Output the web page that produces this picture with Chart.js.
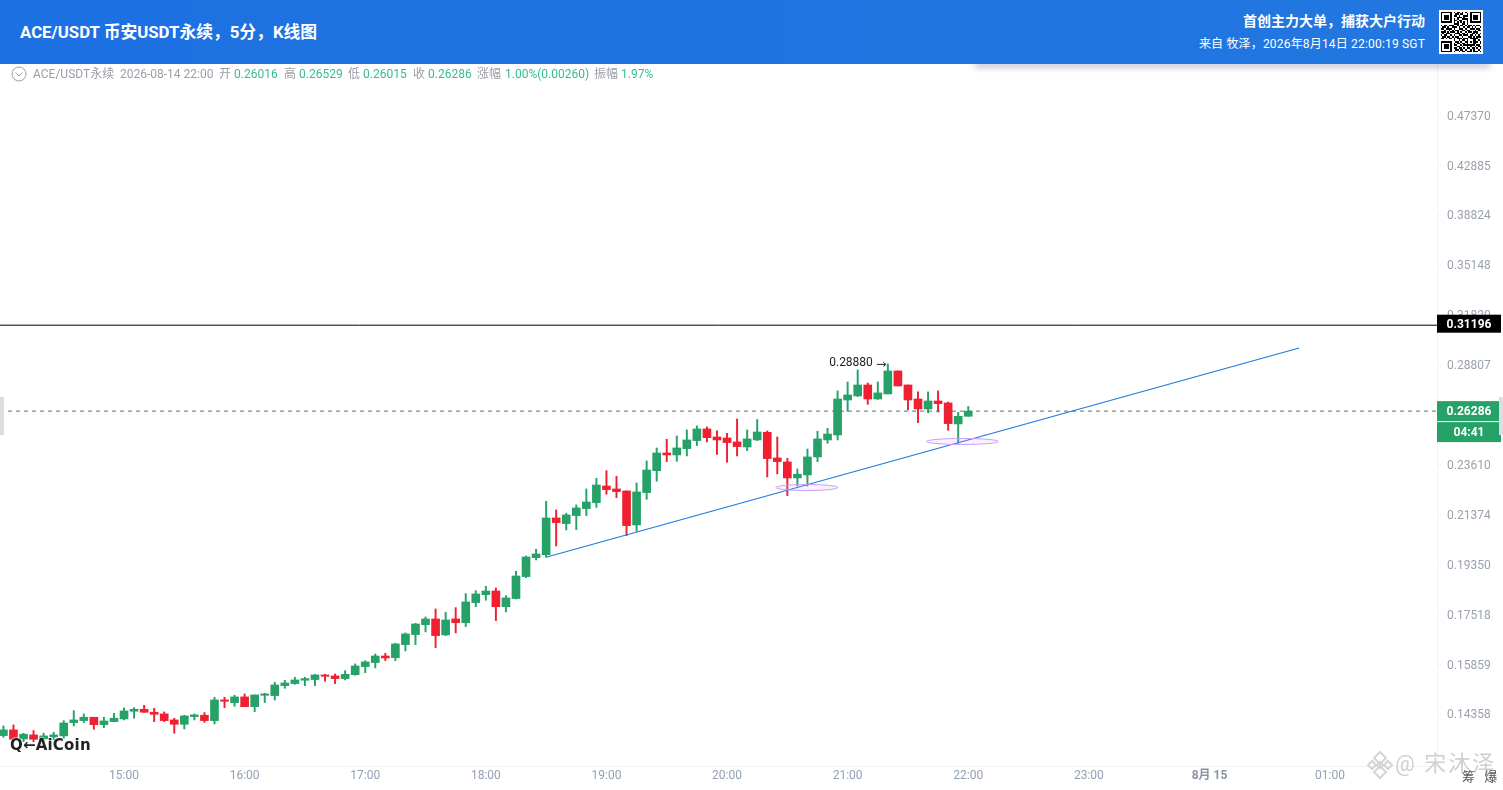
<!DOCTYPE html>
<html lang="zh">
<head>
<meta charset="utf-8">
<title>ACE/USDT</title>
<script src="https://cdn.jsdelivr.net/npm/chart.js@4/dist/chart.umd.min.js"></script>
<style>
html,body{margin:0;padding:0;background:#fff;width:1503px;height:790px;overflow:hidden;font-family:Roboto,"Noto Sans CJK SC",sans-serif;}
#chart{position:absolute;left:0;top:0;width:1503px;height:790px;}
#head{position:absolute;left:0;top:0;width:1503px;height:64px;background:linear-gradient(90deg,#1d70e2,#2277e0);color:#fff;z-index:3;}
#shadow{position:absolute;left:975px;top:60px;width:515px;height:4px;box-shadow:0 3px 6px rgba(20,30,70,.35);z-index:2;}
.abs{position:absolute;white-space:nowrap;}
#title{left:20px;top:21px;font-size:16.8px;font-weight:700;line-height:22px;}
#slogan{right:78px;top:12px;font-size:14px;font-weight:700;line-height:18px;}
#from{right:78px;top:35px;font-size:12px;line-height:18px;letter-spacing:.18px;}
#qr{position:absolute;left:1439px;top:10px;width:44px;height:44px;background:#fff;}
.info{position:absolute;top:67px;font-size:12px;line-height:15px;color:#9a9ea8;white-space:nowrap;z-index:2;}
.info.g{color:#36bd8c;}
#logo{position:absolute;left:10px;top:736px;font:700 15px "DejaVu Sans",sans-serif;color:#222;letter-spacing:.2px;text-shadow:0 0 2px #fff,0 0 2px #fff;z-index:2;}
#mark{position:absolute;left:1395px;top:749px;font-size:22px;line-height:30px;color:#d0d0d0;letter-spacing:2px;white-space:nowrap;z-index:2;}
#sub{position:absolute;left:1462px;top:769px;font-size:13px;line-height:16px;color:#555;word-spacing:6px;white-space:nowrap;z-index:2;}
.grip{position:absolute;top:397px;width:4px;height:38px;background:#dcdde0;z-index:2;}
</style>
</head>
<body>
<canvas id="chart" width="1503" height="790"></canvas>
<div id="shadow"></div>
<div id="head">
  <div id="title" class="abs">ACE/USDT 币安USDT永续，5分，K线图</div>
  <div id="slogan" class="abs">首创主力大单，捕获大户行动</div>
  <div id="from" class="abs">来自 牧泽，2026年8月14日 22:00:19 SGT</div>
  <svg id="qr" viewBox="-1 -1 27 27" shape-rendering="crispEdges"></svg>
</div>
<svg style="position:absolute;left:11px;top:66px;z-index:2" width="16" height="16" viewBox="0 0 16 16"><circle cx="8" cy="8" r="7" fill="none" stroke="#9a9ea8"/><path d="M4.5 6.5 8 10l3.5-3.5" fill="none" stroke="#9a9ea8"/></svg>
<span class="info" style="left:33px">ACE/USDT永续</span>
<span class="info" style="left:120px">2026-08-14 22:00</span>
<span class="info" style="left:219px">开</span><span class="info g" style="left:234px">0.26016</span>
<span class="info" style="left:284px">高</span><span class="info g" style="left:299px">0.26529</span>
<span class="info" style="left:348px">低</span><span class="info g" style="left:363px">0.26015</span>
<span class="info" style="left:413px">收</span><span class="info g" style="left:428px">0.26286</span>
<span class="info" style="left:477px">涨幅</span><span class="info g" style="left:505px">1.00%(0.00260)</span>
<span class="info" style="left:594px">振幅</span><span class="info g" style="left:621px">1.97%</span>
<div id="logo">Q←AiCoin</div>
<svg style="position:absolute;left:1365px;top:750px;z-index:2" width="30" height="30" viewBox="0 0 30 30"><g fill="none" stroke="#d4d4d4" stroke-width="2"><path d="M15 2 21 8 15 14 9 8Z"/><path d="M15 16 21 22 15 28 9 22Z"/><path d="M7 11 11 15 7 19 3 15Z"/><path d="M23 11 27 15 23 19 19 15Z"/><path d="M15 12 18 15 15 18 12 15Z"/></g></svg>
<div id="mark">@ 宋沐泽</div>
<div id="sub">筹 爆</div>
<div class="grip" style="left:0"></div>
<div class="grip" style="left:1499px"></div>
<script>
const opens = [.13767,.13924,.13675,.13785,.13675,.13730,.13758,.14127,.14184,.14279,
.14071,.14156,.14232,.14451,.14508,.14422,.14375,.14203,.14080,.14298,
.14336,.14184,.14781,.14702,.14870,.14584,.14919,.14909,.15209,.15270,
.15372,.15393,.15535,.15505,.15423,.15545,.15796,.15923,.16134,.16080,
.16504,.16837,.17174,.17370,.16826,.17370,.17242,.17945,.18234,.18366,
.17801,.18090,.18900,.19628,.19745,.21244,.21006,.21344,.21644,.21903,
.22642,.22508,.22419,.20950,.22345,.23344,.24181,.24086,.24393,.24785,
.25369,.24965,.24916,.24720,.24473,.24818,.25198,.23943,.23753,.23007,
.23146,.23991,.24818,.25065,.26875,.27093,.27692,.26929,.27202,.28477,
.27692,.26929,.26401,.26822,.26717,.25623,.26016];
const highs = [.14034,.14062,.13831,.13905,.13831,.13859,.14184,.14470,.14375,.14279,
.14279,.14394,.14546,.14555,.14623,.14536,.14432,.14251,.14336,.14375,
.14413,.14860,.14860,.14919,.14959,.14929,.14978,.15311,.15372,.15464,
.15464,.15555,.15555,.15566,.15670,.15881,.15986,.16199,.16221,.16548,
.16893,.17219,.17440,.17720,.17603,.17766,.18270,.18378,.18539,.18477,
.18198,.19101,.19694,.19959,.21962,.21587,.21444,.21802,.22508,.22993,
.23344,.23085,.22419,.22779,.23802,.24426,.24850,.25015,.25319,.25521,
.25470,.25268,.25150,.25876,.25317,.25843,.25266,.24966,.23928,.23422,
.24374,.25249,.25402,.27365,.27858,.28533,.27802,.27858,.28880,.28477,
.27692,.27311,.27311,.27365,.26770,.26224,.26529];
const lows = [.13721,.13602,.13602,.13602,.13602,.13647,.13693,.14034,.14127,.13942,
.13988,.14156,.14203,.14251,.14413,.14156,.14156,.13831,.13951,.14203,
.14137,.14090,.14555,.14594,.14584,.14441,.14702,.14781,.15128,.15250,
.15209,.15209,.15342,.15270,.15382,.15525,.15607,.15754,.15986,.15986,
.16297,.16504,.16927,.16406,.16803,.16893,.17107,.17801,.18030,.17312,
.17615,.18078,.18862,.19538,.19641,.20091,.20743,.20757,.21344,.21701,
.22271,.22124,.20508,.20687,.22050,.22855,.23770,.23786,.24039,.24540,
.24720,.24118,.23738,.24039,.24293,.24785,.23053,.23192,.22211,.22642,
.22642,.23769,.24654,.24818,.26277,.27057,.26646,.26911,.27202,.27638,
.26348,.25690,.26207,.26242,.25300,.24654,.26015];
const closes = [.13924,.13665,.13804,.13665,.13758,.13785,.14117,.14203,.14279,.14071,
.14175,.14251,.14460,.14508,.14422,.14365,.14184,.14080,.14317,.14346,
.14184,.14781,.14742,.14870,.14584,.14929,.14959,.15230,.15291,.15382,
.15423,.15535,.15494,.15423,.15555,.15817,.15944,.16134,.16070,.16526,
.16859,.17197,.17370,.16803,.17335,.17242,.17969,.18258,.18366,.17801,
.18114,.18924,.19654,.19773,.21244,.21047,.21373,.21673,.21932,.22687,
.22478,.22390,.20923,.22375,.23375,.24181,.24086,.24426,.24818,.25369,
.24932,.24818,.24687,.24491,.24868,.25215,.23912,.23769,.23007,.23176,
.23991,.24868,.25114,.26929,.27147,.27692,.26929,.27256,.28477,.27638,
.26875,.26401,.26822,.26682,.25640,.26016,.26286];
const candleStepMinutes = 5;
const xTickMinutes = [60,120,180,240,300,360,420,480,540,600,660];
const xTickLabels = ["15:00","16:00","17:00","18:00","19:00","20:00","21:00","22:00","23:00","8月 15","01:00"];
const boldTickMinute = 600;
const yTickValues = [.47370,.42885,.38824,.35148,.31820,.28807,.23610,.21374,.19350,.17518,.15859,.14358];
const trendMinutes = [270.4,644.6];
const trendPrices = [.19653,.29810];
const blackLevel = .31196;
const lastPrice = .26286;
const countdown = "04:41";
const highMarkIndex = 88;
const ellipseMinutes = [399.7,477.1];
const ellipsePrices = [.22573,.24742];
const GREEN = "#26a269", RED = "#f01f32";
const xMin = -1.7, xMax = 713.2;

const qrRows = ["1111111010110101001111111","1000001001101100101000001","1011101011010011101011101","1011101000111010001011101","1011101010100111101011101","1000001011011000101000001","1111111010101010101111111","0000000011100110100000000","1011011100101101011010110","0110100111010010110101001","1101111010011101001110110","0010010101100110110001011","1110101110101001011011100","0101110001110110100110101","1011001010011011101101010","0110110101100100011010111","1101011010111011101111100","0000000010010110100011010","1111111001101001101011101","1000001010110110100011001","1011101011001011111110110","1011101000110100101001011","1011101011011010110110101","1000001001101101001010010","1111111010010110111011101"];
let qrPath = "";
qrRows.forEach((r,y)=>{[...r].forEach((c,x)=>{if(c==="1")qrPath+=`M${x} ${y}h1v1h-1z`;});});
document.getElementById("qr").innerHTML = `<rect x="-1" y="-1" width="27" height="27" fill="#fff"/><path d="${qrPath}" fill="#000"/>`;

const minutesOf = i => i*candleStepMinutes;
const colorOf = opens.map((o,i)=>closes[i]>=o?GREEN:RED);

const overlay = {
  id:"overlay",
  afterDatasetsDraw(c){
    const {ctx,scales:{x,y},chartArea:a} = c;
    ctx.save();
    ellipseMinutes.forEach((m,i)=>{
      const cx=x.getPixelForValue(m), cy=y.getPixelForValue(ellipsePrices[i]);
      const rx = i===0?31:36;
      ctx.beginPath();ctx.ellipse(cx,cy,rx,3,0,0,Math.PI*2);
      ctx.fillStyle="rgba(200,160,250,.14)";ctx.fill();
      ctx.strokeStyle="#c9a0f5";ctx.lineWidth=1;ctx.stroke();
    });
    const hx=x.getPixelForValue(minutesOf(highMarkIndex)), hy=y.getPixelForValue(highs[highMarkIndex]);
    ctx.fillStyle="#222";ctx.font="12px Roboto,sans-serif";ctx.textAlign="right";ctx.textBaseline="middle";
    ctx.fillText(highs[highMarkIndex].toFixed(5),hx-15,hy-0.5);
    ctx.strokeStyle="#222";ctx.lineWidth=1;ctx.beginPath();
    ctx.moveTo(hx-11,hy+.5);ctx.lineTo(hx-2,hy+.5);ctx.moveTo(hx-4.5,hy-1.5);ctx.lineTo(hx-2,hy+.5);ctx.lineTo(hx-4.5,hy+2.5);ctx.stroke();
    const tag=(top,h,bg,txt)=>{
      ctx.fillStyle=bg;ctx.fillRect(a.right,top,64,h);
      ctx.fillStyle="#fff";ctx.font="700 12px Roboto,sans-serif";ctx.textAlign="center";ctx.textBaseline="middle";
      ctx.fillText(txt,a.right+32,top+h/2+1);
    };
    const by=y.getPixelForValue(blackLevel), gy=y.getPixelForValue(lastPrice);
    tag(by-10.5,18,"#000",blackLevel.toFixed(5));
    tag(gy-10,20,GREEN,lastPrice.toFixed(5));
    tag(gy+11,20,GREEN,countdown);
    ctx.restore();
  }
};

new Chart(document.getElementById("chart"),{
  type:"bar",
  data:{datasets:[
    {type:"line",label:"level",data:[{x:xMin,y:blackLevel},{x:xMax,y:blackLevel}],borderColor:"#000",borderWidth:1,pointRadius:0,order:1},
    {type:"line",label:"last",data:[{x:xMin,y:lastPrice},{x:xMax,y:lastPrice}],borderColor:"#4a7d68",borderWidth:1,borderDash:[4,4],pointRadius:0,order:1},
    {type:"line",label:"trend",data:trendMinutes.map((m,i)=>({x:m,y:trendPrices[i]})),borderColor:"#1f7ae0",borderWidth:1.2,pointRadius:0,order:0},
    {label:"wick",data:opens.map((_,i)=>({x:minutesOf(i),y:[lows[i],highs[i]]})),backgroundColor:colorOf,barThickness:1.3,grouped:false,borderWidth:0,order:3},
    {label:"body",data:opens.map((o,i)=>({x:minutesOf(i),y:[o,closes[i]]})),backgroundColor:colorOf,barThickness:8,grouped:false,borderWidth:0,order:2}
  ]},
  options:{
    responsive:false,animation:false,devicePixelRatio:1,
    layout:{padding:{top:64,left:0,right:0,bottom:0}},
    plugins:{legend:{display:false},tooltip:{enabled:false},title:{display:false}},
    scales:{
      x:{type:"linear",offset:false,min:xMin,max:xMax,position:"bottom",
        grid:{display:true,offset:false,drawOnChartArea:false,drawTicks:false},
        border:{display:true,color:"#f1f2f4"},
        afterBuildTicks(s){s.ticks=xTickMinutes.map(v=>({value:v}));},
        afterFit(s){s.height=24;},
        ticks:{autoSkip:false,maxRotation:0,padding:3,
          callback:(v)=>xTickLabels[xTickMinutes.indexOf(v)],
          color:c=>(c.tick&&c.tick.value===boldTickMinute)?"#8b93a3":"#93a0b4",
          font:c=>(c.tick&&c.tick.value===boldTickMinute)?{family:"Roboto,'Noto Sans CJK SC',sans-serif",size:12,weight:"700"}:{family:"Roboto,sans-serif",size:12}}},
      y:{type:"logarithmic",position:"right",min:.12957,max:.52507,
        grid:{display:true,drawOnChartArea:false,drawTicks:true,tickLength:4,color:"#f1f2f4"},
        border:{display:true,color:"#f1f2f4"},
        afterBuildTicks(s){s.ticks=yTickValues.map(v=>({value:v}));},
        afterFit(s){s.width=66;},
        ticks:{autoSkip:false,padding:6,labelOffset:1,align:"center",crossAlign:"near",
          callback:v=>Number(v).toFixed(5),color:"#9aa1ad",font:{family:"Roboto,sans-serif",size:12}}}
    }
  },
  plugins:[overlay]
});
</script>
</body>
</html>
